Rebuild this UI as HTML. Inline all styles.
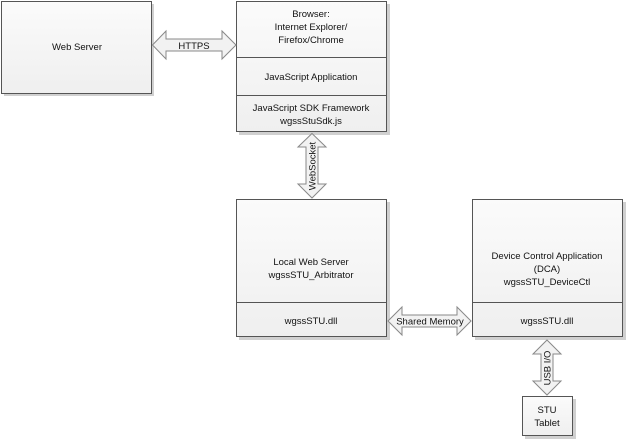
<!DOCTYPE html>
<html><head><meta charset="utf-8"><style>
html,body{margin:0;padding:0;background:#fff;}
svg{display:block;}
text{font-family:"Liberation Sans",sans-serif;font-size:9.5px;fill:#111;}
</style></head><body>
<svg width="626" height="440" viewBox="0 0 626 440" xmlns="http://www.w3.org/2000/svg">
<defs>
<linearGradient id="g" x1="0" y1="0" x2="0" y2="1"><stop offset="0" stop-color="#fbfbfb"/><stop offset="1" stop-color="#efefef"/></linearGradient>
</defs>
<g fill="#d0d0d0">
<rect x="4" y="4" width="150" height="92"/>
<rect x="239" y="4" width="151" height="131"/>
<rect x="239" y="202" width="151" height="138"/>
<rect x="475" y="202" width="151" height="138"/>
<rect x="525" y="399" width="51" height="40"/>
</g>
<g fill="url(#g)" stroke="#555" stroke-width="1">
<rect x="1.5" y="1.5" width="150" height="92"/>
<rect x="236.5" y="1.5" width="150" height="130"/>
<rect x="236.5" y="199.5" width="150" height="137"/>
<rect x="472.5" y="199.5" width="150" height="137"/>
<rect x="522.5" y="396.5" width="50" height="39"/>
</g>
<g stroke="#555" stroke-width="1">
<line x1="236" y1="57.5" x2="387" y2="57.5"/>
<line x1="236" y1="95.5" x2="387" y2="95.5"/>
<line x1="236" y1="302.5" x2="387" y2="302.5"/>
<line x1="472" y1="302.5" x2="623" y2="302.5"/>
</g>
<g fill="#f2f2f2" stroke="#888" stroke-width="1">
<polygon points="152.5,45 166,31 166,39 222,39 222,31 236,45 222,59 222,51 166,51 166,59"/>
<polygon points="312,133.5 326,147 318,147 318,184 326,184 312,198 298,184 306,184 306,147 298,147"/>
<polygon points="388,321 402,307 402,315 457,315 457,307 471,321 457,335 457,327 402,327 402,335"/>
<polygon points="547,340 561,354 553,354 553,381 561,381 547,395 533,381 541,381 541,354 533,354"/>
</g>
<g text-anchor="middle">
<text x="77" y="50">Web Server</text>
<text x="311" y="17">Browser:</text>
<text x="311" y="30">Internet Explorer/</text>
<text x="311" y="43">Firefox/Chrome</text>
<text x="311" y="80">JavaScript Application</text>
<text x="311" y="111">JavaScript SDK Framework</text>
<text x="311" y="124">wgssStuSdk.js</text>
<text x="311" y="265">Local Web Server</text>
<text x="311" y="278">wgssSTU_Arbitrator</text>
<text x="311" y="324">wgssSTU.dll</text>
<text x="547" y="259">Device Control Application</text>
<text x="547" y="272">(DCA)</text>
<text x="547" y="285">wgssSTU_DeviceCtl</text>
<text x="547" y="324">wgssSTU.dll</text>
<text x="547" y="413">STU</text>
<text x="547" y="426">Tablet</text>
<text x="194" y="49" font-size="8.5">HTTPS</text>
<text x="430" y="324.5" font-size="8.5">Shared Memory</text>
<text transform="translate(315.5,166) rotate(-90)" font-size="8.5">WebSocket</text>
<text transform="translate(550.5,368) rotate(-90)" font-size="8.5">USB I/O</text>
</g>
</svg>
</body></html>
